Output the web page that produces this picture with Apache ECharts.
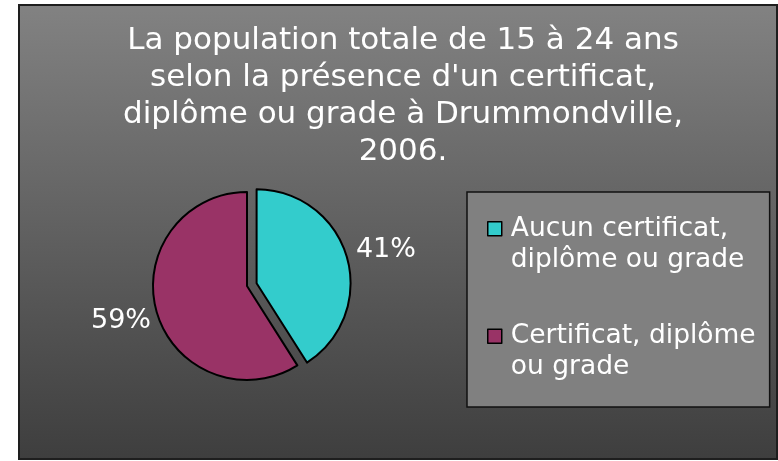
<!DOCTYPE html>
<html>
<head>
<meta charset="utf-8">
<script src="https://cdn.jsdelivr.net/npm/echarts@6/dist/echarts.min.js"></script>
<style>
  html, body { margin: 0; padding: 0; background: #fff; }
  #chart { width: 778px; height: 461px; }
</style>
</head>
<body>
<div id="chart"></div>
<script>
// données
const titleLines = ['La population totale de 15 à 24 ans', "selon la présence d'un certificat,", 'diplôme ou grade à Drummondville,', '2006.']
const categories = ['Aucun certificat,\ndiplôme ou grade', 'Certificat, diplôme\nou grade']
const values = [41, 59]
const colors = ['#33CCCC', '#993366']
// longueur des lignes d'étiquette (invisibles) pour placer les pourcentages
const labelLen = [[24, -19], [31, -29]]

const font = 'DejaVu Sans'
const echart = echarts.init(document.getElementById('chart'))

// carré en haut d'une zone de 2 lignes de texte
const legendIcon = 'path://M0,0M0,8.5L14,8.5L14,22.5L0,22.5Z M14,62'

const option = {
  animation: false,
  textStyle: { fontFamily: font },
  graphic: [
    {
      type: 'rect',
      z: -10,
      shape: { x: 19, y: 5, width: 758, height: 454 },
      style: {
        fill: new echarts.graphic.LinearGradient(0, 0, 0, 1, [
          { offset: 0, color: '#828282' },
          { offset: 1, color: '#3e3e3e' }
        ]),
        stroke: '#1e1e1e',
        lineWidth: 2
      }
    }
  ],
  title: {
    text: titleLines.join('\n'),
    left: 398,
    top: 17,
    textAlign: 'center',
    textStyle: { color: '#fff', fontSize: 31, fontWeight: 'normal', lineHeight: 37, fontFamily: font }
  },
  legend: {
    orient: 'vertical',
    left: 467,
    top: 192,
    backgroundColor: '#808080',
    borderColor: '#111',
    borderWidth: 1.5,
    borderRadius: 0,
    padding: [20.5, 14, 23.5, 20],
    itemGap: 44,
    itemWidth: 14,
    itemHeight: 62,
    icon: legendIcon,
    itemStyle: { borderColor: '#000', borderWidth: 1.5 },
    selectedMode: false,
    textStyle: { color: '#fff', fontSize: 26.5, lineHeight: 31, padding: [0, 0, 0, 4], fontFamily: font },
    data: categories
  },
  series: [
    {
      type: 'pie',
      center: [247, 286],
      radius: [0, 94],
      startAngle: 90,
      clockwise: true,
      selectedMode: 'single',
      selectedOffset: 10,
      avoidLabelOverlap: false,
      emphasis: { disabled: true },
      itemStyle: { borderColor: '#000', borderWidth: 2 },
      label: {
        show: true,
        position: 'outside',
        formatter: '{d}%',
        color: '#fff',
        fontSize: 27,
        fontFamily: font
      },
      labelLine: { show: false },
      data: categories.map((name, i) => ({
        name: name,
        value: values[i],
        selected: i === 0,
        itemStyle: { color: colors[i] },
        labelLine: { show: false, length: labelLen[i][0], length2: labelLen[i][1] }
      }))
    }
  ]
}

echart.setOption(option)
</script>
</body>
</html>
